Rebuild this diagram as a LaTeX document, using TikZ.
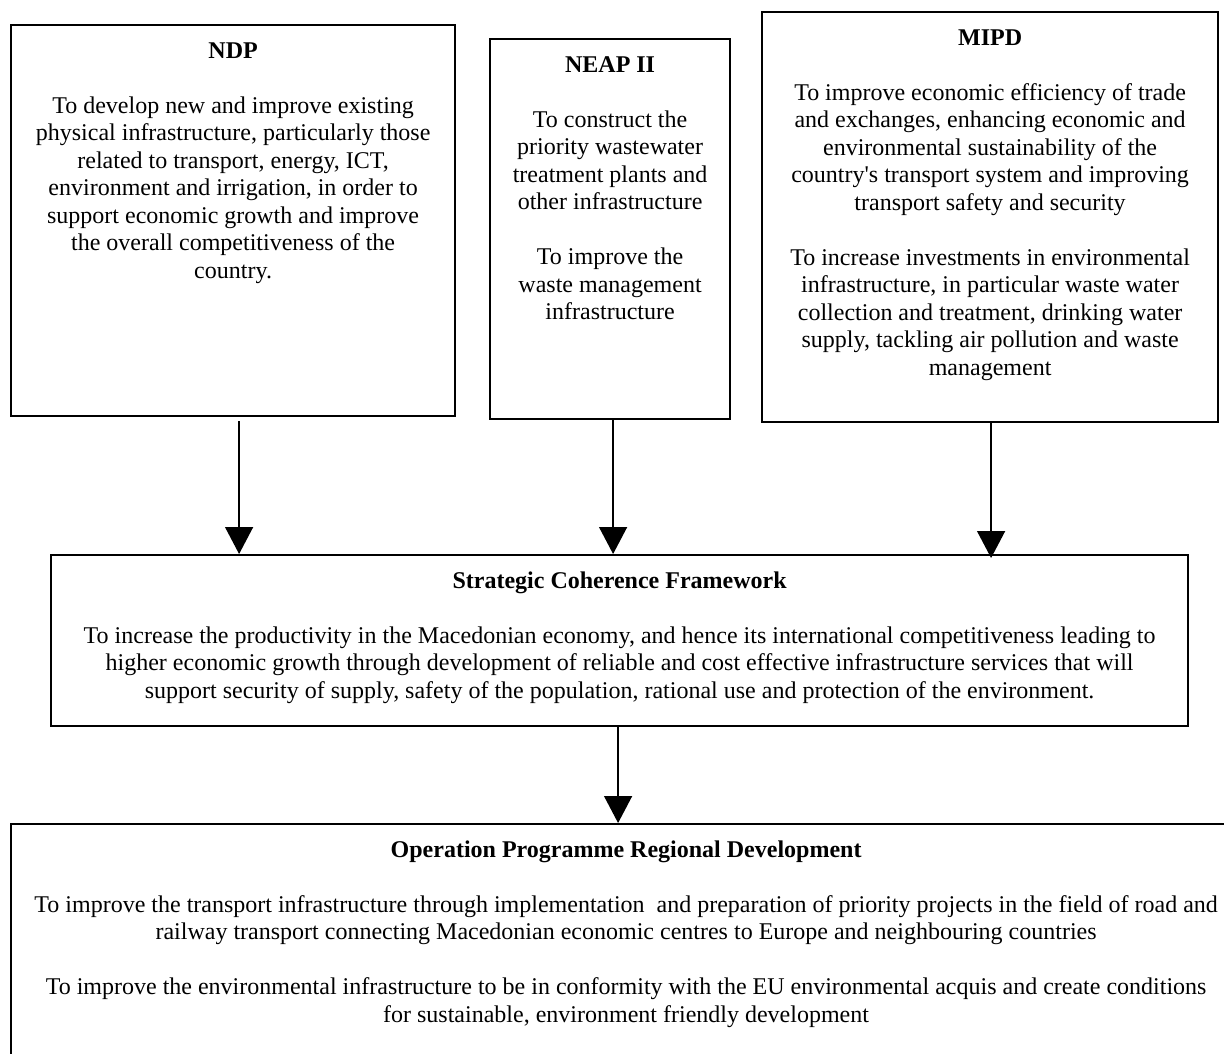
\documentclass[tikz,border=0pt]{standalone}
\usepackage{fontspec}
\setmainfont{Liberation Serif}[Ligatures=NoCommon]
\usetikzlibrary{arrows.meta}
\tikzset{
  box/.style={draw, line width=2.2pt, inner sep=0pt, anchor=north west},
  txt/.style={anchor=north, inner sep=0pt, align=center, font=\fontsize{24}{27.5}\selectfont},
  arr/.style={line width=1.5pt, -{Triangle[width=28pt,length=27pt]}}
}
\begin{document}
\begin{tikzpicture}[x=1pt,y=-1pt]
\useasboundingbox (0,0) rectangle (1224,1054);
\clip (0,0) rectangle (1224,1054);
\fill[white] (0,0) rectangle (1224,1054);

% boxes
\node[box, minimum width=444pt, minimum height=391pt] (ndp) at (10,24) {};
\node[box, minimum width=240pt, minimum height=380pt] (neap) at (489,38) {};
\node[box, minimum width=456pt, minimum height=410pt] (mipd) at (761,11) {};
\node[box, minimum width=1137pt, minimum height=171pt] (scf) at (50,554) {};
\node[box, minimum width=1230pt, minimum height=260pt] (oprd) at (10,823) {};

% texts
\node[txt] (ndpt) at ([yshift=-15pt]ndp.north) {\strut\textbf{NDP}\\[27.5pt]
To develop new and improve existing\\
physical infrastructure, particularly those\\
related to transport, energy, ICT,\\
environment and irrigation, in order to\\
support economic growth and improve\\
the overall competitiveness of the\\
country.};

\node[txt] (neapt) at ([yshift=-15pt]neap.north) {\strut\textbf{NEAP II}\\[27.5pt]
To construct the\\
priority wastewater\\
treatment plants and\\
other infrastructure\\[27.5pt]
To improve the\\
waste management\\
infrastructure};

\node[txt] (mipdt) at ([yshift=-15pt]mipd.north) {\strut\textbf{MIPD}\\[27.5pt]
To improve economic efficiency of trade\\
and exchanges, enhancing economic and\\
environmental sustainability of the\\
country\textquotesingle s transport system and improving\\
transport safety and security\\[27.5pt]
To increase investments in environmental\\
infrastructure, in particular waste water\\
collection and treatment, drinking water\\
supply, tackling air pollution and waste\\
management};

\node[txt] (scft) at ([yshift=-15pt]scf.north) {\strut\textbf{Strategic Coherence Framework}\\[27.5pt]
To increase the productivity in the Macedonian economy, and hence its international competitiveness leading to\\
higher economic growth through development of reliable and cost effective infrastructure services that will\\
support security of supply, safety of the population, rational use and protection of the environment.};

\node[txt] (oprdt) at ([yshift=-15pt]oprd.north) {\strut\textbf{Operation Programme Regional Development}\\[27.5pt]
To improve the transport infrastructure through implementation~ and preparation of priority projects in the field of road and\\
railway transport connecting Macedonian economic centres to Europe and neighbouring countries\\[27.5pt]
To improve the environmental infrastructure to be in conformity with the EU environmental acquis and create conditions\\
for sustainable, environment friendly development};

% connectors
\coordinate (a1) at ([xshift=6pt,yshift=-4pt]ndp.south);
\coordinate (a2) at ([xshift=3pt]neap.south);
\coordinate (a3) at ([xshift=1pt]mipd.south);
\coordinate (a3e) at ([yshift=-4pt]a3 |- scf.north);
\coordinate (a4) at ([xshift=-1.5pt]scf.south);
\draw[arr] (a1) -- (a1 |- scf.north);
\draw[arr] (a2) -- (a2 |- scf.north);
\draw[arr] (a3) -- (a3e);
\draw[arr] (a4) -- (a4 |- oprd.north);
\end{tikzpicture}
\end{document}
